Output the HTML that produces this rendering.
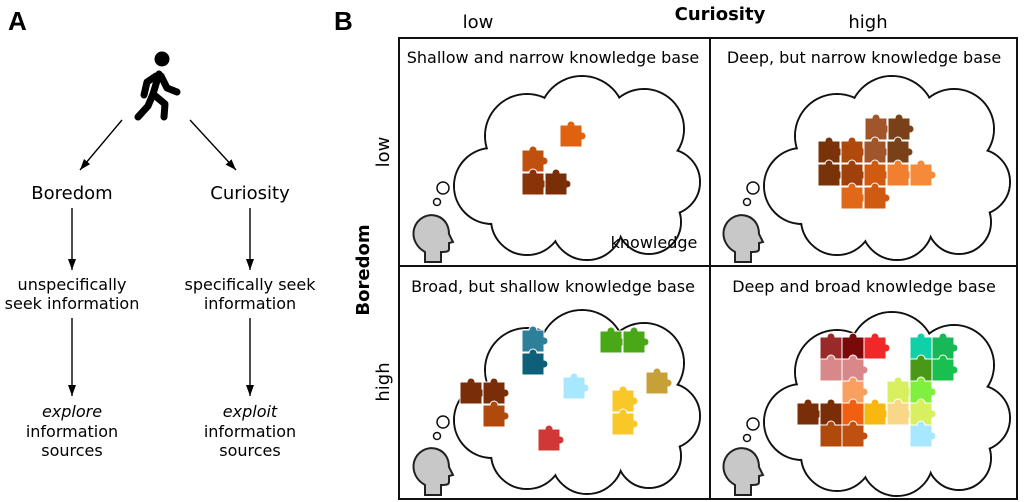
<!DOCTYPE html>
<html><head><meta charset="utf-8"><style>
body{margin:0;background:#fff}
svg{display:block;font-family:"DejaVu Sans","Liberation Sans",sans-serif}
</style></head><body>
<svg width="1024" height="502" viewBox="0 0 1024 502" xmlns="http://www.w3.org/2000/svg">
<defs>
<marker id="ar" markerWidth="12" markerHeight="10" refX="11" refY="5" orient="auto" markerUnits="userSpaceOnUse">
<path d="M0,1 L11,5 L0,9 Z" fill="#000"/></marker>
<path id="pc" d="M0,0 H7 A4,4 0 1 1 15,0 H22 V7 A4,4 0 1 1 22,15 V22 H0 Z" stroke="#fff" stroke-width="1"/>
<g id="cloud">
<g fill="#fff" stroke="#111" stroke-width="2">
<circle cx="40" cy="112" r="38"/><circle cx="75" cy="62" r="42"/><circle cx="130" cy="45" r="43"/>
<circle cx="192" cy="55" r="40"/><circle cx="215" cy="108" r="33"/><circle cx="197" cy="148" r="32"/>
<circle cx="135" cy="150" r="36"/><circle cx="75" cy="145" r="36"/></g>
<g fill="#fff">
<circle cx="40" cy="112" r="37"/><circle cx="75" cy="62" r="41"/><circle cx="130" cy="45" r="42"/>
<circle cx="192" cy="55" r="39"/><circle cx="215" cy="108" r="32"/><circle cx="197" cy="148" r="31"/>
<circle cx="135" cy="150" r="35"/><circle cx="75" cy="145" r="35"/>
<ellipse cx="128" cy="105" rx="90" ry="55"/></g>
<circle cx="-9" cy="114" r="6" fill="#fff" stroke="#111" stroke-width="1.5"/>
<circle cx="-15" cy="128" r="3.5" fill="#fff" stroke="#111" stroke-width="1.5"/>
</g>
<path id="head" d="M14,48 V38 C5,33 1,24 3,15 C6,4 17,-1 26,2 C35,5 38,13 38,20 L42,28 L38,29 V35 C38,38 34,38 30,38 V48 Z" fill="#c8c8c8" stroke="#222" stroke-width="2"/>
</defs>

<!-- Panel A -->
<text x="8" y="30" font-size="26" font-weight="bold" font-family="Liberation Sans">A</text>
<circle cx="162" cy="59" r="7.5" fill="#000"/>
<g stroke="#000" stroke-width="7" stroke-linecap="round" stroke-linejoin="round" fill="none">
<path d="M159,74 L153,94"/>
<path d="M156,76 L147,82 L144,95"/>
<path d="M161,76 L167,88 L177,92"/>
<path d="M153,94 L165,104 L164,117"/>
<path d="M153,94 L148,106 L138,117"/>
</g>
<line x1="122" y1="120" x2="80" y2="170" stroke="#000" stroke-width="1.4" marker-end="url(#ar)"/>
<line x1="190" y1="120" x2="236" y2="170" stroke="#000" stroke-width="1.4" marker-end="url(#ar)"/>
<g font-size="18" text-anchor="middle">
<text x="72" y="199">Boredom</text>
<text x="250" y="199">Curiosity</text>
<text x="72" y="290" font-size="16">unspecifically</text>
<text x="72" y="309" font-size="16">seek information</text>
<text x="250" y="290" font-size="16">specifically seek</text>
<text x="250" y="309" font-size="16">information</text>
<text x="72" y="417" font-size="16" font-style="italic">explore</text>
<text x="72" y="437" font-size="16">information</text>
<text x="72" y="456" font-size="16">sources</text>
<text x="250" y="417" font-size="16" font-style="italic">exploit</text>
<text x="250" y="437" font-size="16">information</text>
<text x="250" y="456" font-size="16">sources</text>
</g>
<g stroke="#000" stroke-width="1.4">
<line x1="72" y1="208" x2="72" y2="270" marker-end="url(#ar)"/>
<line x1="250" y1="208" x2="250" y2="270" marker-end="url(#ar)"/>
<line x1="72" y1="318" x2="72" y2="396" marker-end="url(#ar)"/>
<line x1="250" y1="318" x2="250" y2="396" marker-end="url(#ar)"/>
</g>

<!-- Panel B -->
<text x="334" y="30" font-size="26" font-weight="bold" font-family="Liberation Sans">B</text>
<text x="720" y="20" font-size="18" font-weight="bold" text-anchor="middle">Curiosity</text>
<text x="478" y="28" font-size="18" text-anchor="middle">low</text>
<text x="868" y="28" font-size="18" text-anchor="middle">high</text>
<text transform="translate(369,270) rotate(-90)" font-size="18" font-weight="bold" text-anchor="middle">Boredom</text>
<text transform="translate(389,152) rotate(-90)" font-size="18" text-anchor="middle">low</text>
<text transform="translate(389,382) rotate(-90)" font-size="18" text-anchor="middle">high</text>

<rect x="399" y="38" width="618" height="461" fill="none" stroke="#111" stroke-width="2"/>
<line x1="710" y1="38" x2="710" y2="499" stroke="#111" stroke-width="2"/>
<line x1="399" y1="266" x2="1017" y2="266" stroke="#111" stroke-width="2"/>

<g font-size="16" text-anchor="middle">
<text x="553" y="63">Shallow and narrow knowledge base</text>
<text x="864" y="63">Deep, but narrow knowledge base</text>
<text x="553" y="292">Broad, but shallow knowledge base</text>
<text x="864" y="292">Deep and broad knowledge base</text>
</g>

<use href="#cloud" x="452" y="74"/>
<use href="#cloud" x="762" y="74"/>
<use href="#cloud" x="452" y="308"/>
<use href="#cloud" x="762" y="310"/>
<use href="#head" x="411" y="214"/>
<use href="#head" x="721" y="214"/>
<use href="#head" x="411" y="447"/>
<use href="#head" x="721" y="447"/>
<text x="654" y="248" font-size="16" text-anchor="middle">knowledge</text>

<!-- TL pieces -->
<use href="#pc" x="560" y="125" fill="#e0620f"/>
<use href="#pc" x="522" y="150" fill="#c0500e"/>
<use href="#pc" x="522" y="173" fill="#8a3208"/>
<use href="#pc" x="545" y="173" fill="#7a2e08"/>

<!-- TR pieces -->
<use href="#pc" x="865" y="118" fill="#a0562a"/>
<use href="#pc" x="888" y="118" fill="#7a4018"/>
<use href="#pc" x="818" y="141" fill="#7a3208"/>
<use href="#pc" x="841" y="141" fill="#b04a0c"/>
<use href="#pc" x="864" y="141" fill="#a0562a"/>
<use href="#pc" x="887" y="141" fill="#7a4018"/>
<use href="#pc" x="818" y="164" fill="#7a3208"/>
<use href="#pc" x="841" y="164" fill="#a0400a"/>
<use href="#pc" x="864" y="164" fill="#d05a10"/>
<use href="#pc" x="887" y="164" fill="#f08030"/>
<use href="#pc" x="910" y="164" fill="#f58a3a"/>
<use href="#pc" x="841" y="187" fill="#e06818"/>
<use href="#pc" x="864" y="187" fill="#d05a10"/>

<!-- BL pieces -->
<use href="#pc" x="522" y="330" fill="#2d7f9a"/>
<use href="#pc" x="522" y="353" fill="#0d5f7a"/>
<use href="#pc" x="600" y="331" fill="#4aa818"/>
<use href="#pc" x="623" y="331" fill="#4aa818"/>
<use href="#pc" x="563" y="377" fill="#a8e8ff"/>
<use href="#pc" x="646" y="372" fill="#c8a038"/>
<use href="#pc" x="460" y="382" fill="#7a2e08"/>
<use href="#pc" x="483" y="382" fill="#7a2e08"/>
<use href="#pc" x="483" y="405" fill="#b04a0c"/>
<use href="#pc" x="612" y="390" fill="#f8c828"/>
<use href="#pc" x="612" y="413" fill="#f8c828"/>
<use href="#pc" x="538" y="429" fill="#d03838"/>

<!-- BR pieces -->
<use href="#pc" x="820" y="337" fill="#9a2a2a"/>
<use href="#pc" x="842" y="337" fill="#7a0a0a"/>
<use href="#pc" x="864" y="337" fill="#f02828"/>
<use href="#pc" x="910" y="337" fill="#10d0a8"/>
<use href="#pc" x="932" y="337" fill="#18b858"/>
<use href="#pc" x="820" y="359" fill="#d88888"/>
<use href="#pc" x="842" y="359" fill="#d88888"/>
<use href="#pc" x="910" y="359" fill="#4a9818"/>
<use href="#pc" x="932" y="359" fill="#18c050"/>
<use href="#pc" x="842" y="381" fill="#f8a060"/>
<use href="#pc" x="887" y="381" fill="#d8f060"/>
<use href="#pc" x="910" y="381" fill="#80f040"/>
<use href="#pc" x="797" y="403" fill="#7a2e08"/>
<use href="#pc" x="820" y="403" fill="#7a2e08"/>
<use href="#pc" x="842" y="403" fill="#f06010"/>
<use href="#pc" x="864" y="403" fill="#f8b810"/>
<use href="#pc" x="887" y="403" fill="#f8d888"/>
<use href="#pc" x="910" y="403" fill="#d8f060"/>
<use href="#pc" x="820" y="425" fill="#b04a0c"/>
<use href="#pc" x="842" y="425" fill="#c05010"/>
<use href="#pc" x="910" y="425" fill="#a8e8ff"/>
</svg>
</body></html>
